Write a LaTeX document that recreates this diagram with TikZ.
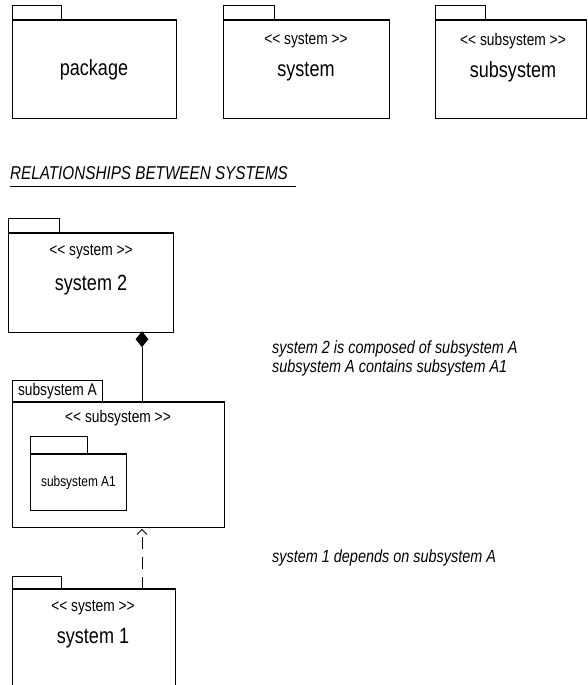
\documentclass[tikz,border=0pt]{standalone}
\usepackage{fontspec}
\setmainfont[FakeStretch=0.82, Ligatures=TeXOff]{Liberation Sans}
\usetikzlibrary{shapes.geometric, arrows.meta}

\begin{document}
\begin{tikzpicture}[x=1pt, y=-1pt,
  pkg/.style={draw, line width=0.9pt, inner sep=0pt, anchor=north west},
  tab/.style={draw, line width=0.9pt, inner sep=0pt, anchor=south west},
  topline/.style={line width=1.8pt},
  lbl/.style={font=\fontsize{22}{24}\selectfont},
  stereo/.style={font=\fontsize{16.8}{18}\selectfont},
  note/.style={font=\fontsize{17.6}{20}\selectfont\itshape, anchor=west, inner sep=0pt}]

\clip (0,0) rectangle (587,685);

% package
\node[pkg, minimum width=164pt, minimum height=98pt] (pack) at (11.7,20) {};
\node[tab, minimum width=49pt, minimum height=14pt] (packtab) at (pack.north west) {};
\draw[topline] (pack.north west) -- (pack.north east);
\node[lbl] (packname) at (94,70) {package};

% system
\node[pkg, minimum width=166pt, minimum height=98pt] (sys) at (223,20) {};
\node[tab, minimum width=51pt, minimum height=14pt] (systab) at (sys.north west) {};
\draw[topline] (sys.north west) -- (sys.north east);
\node[stereo] (sysst) at (306,41) {<< system >>};
\node[lbl] (sysname) at (306,72) {system};

% subsystem
\node[pkg, minimum width=151pt, minimum height=98pt] (sub) at (435,20) {};
\node[tab, minimum width=50pt, minimum height=14pt] (subtab) at (sub.north west) {};
\draw[topline] (sub.north west) -- (sub.north east);
\node[stereo] (subst) at (513,41) {<< subsystem >>};
\node[lbl] (subname) at (513,72) {subsystem};

% heading
\node[anchor=west, inner sep=0pt, font=\fontsize{18.6}{22}\selectfont\itshape] (head) at (10,173) {RELATIONSHIPS BETWEEN SYSTEMS};
\draw[line width=0.9pt] (10,186) -- (296,186);

% system 2
\node[pkg, minimum width=165pt, minimum height=99pt] (systwo) at (8,233) {};
\node[tab, minimum width=51pt, minimum height=14pt] (systwotab) at (systwo.north west) {};
\draw[topline] (systwo.north west) -- (systwo.north east);
\node[stereo] (systwost) at (91,252) {<< system >>};
\node[lbl] (systwoname) at (91,285) {system 2};

% subsystem A with A1 inside
\node[pkg, minimum width=212pt, minimum height=125pt] (subA) at (12,402) {};
\node[tab, minimum width=90pt, minimum height=21pt, font=\fontsize{16.8}{18}\selectfont] (subAtab) at (subA.north west) {subsystem A};
\draw[topline] (subA.north west) -- (subA.north east);
\node[stereo] (subAst) at (118,418) {<< subsystem >>};

\node[pkg, minimum width=96pt, minimum height=56pt] (subAone) at (30,454) {};
\node[tab, minimum width=57pt, minimum height=17pt] (subAonetab) at (subAone.north west) {};
\draw[topline] (subAone.north west) -- (subAone.north east);
\node[font=\fontsize{14.5}{16}\selectfont] (subAonename) at (subAone.center) {subsystem A1};

% system 1
\node[pkg, minimum width=163pt, minimum height=100pt] (sysone) at (12,589) {};
\node[tab, minimum width=49pt, minimum height=12pt] (sysonetab) at (sysone.north west) {};
\draw[topline] (sysone.north west) -- (sysone.north east);
\node[stereo] (sysonest) at (93,608) {<< system >>};
\node[lbl] (sysonename) at (93,638) {system 1};

% composition
\node[diamond, fill=black, inner sep=0pt, minimum width=13pt, minimum height=16pt, anchor=north] (comp) at (142,331) {};
\draw[line width=0.9pt] (comp.south) -- (comp.south |- subA.north);

% dependency
\coordinate (dep) at (142,589);
\draw[line width=0.9pt, dash pattern=on 12pt off 8pt, -{Straight Barb[length=5pt, width=10pt, line width=0.8pt]}] (dep) -- ([yshift=-1pt]dep |- subA.south);

% notes
\node[note] (notea) at (272,349) {system 2 is composed of subsystem A};
\node[note] (noteb) at (272,368) {subsystem A contains subsystem A1};
\node[note] (notec) at (272,558) {system 1 depends on subsystem A};

\end{tikzpicture}
\end{document}
